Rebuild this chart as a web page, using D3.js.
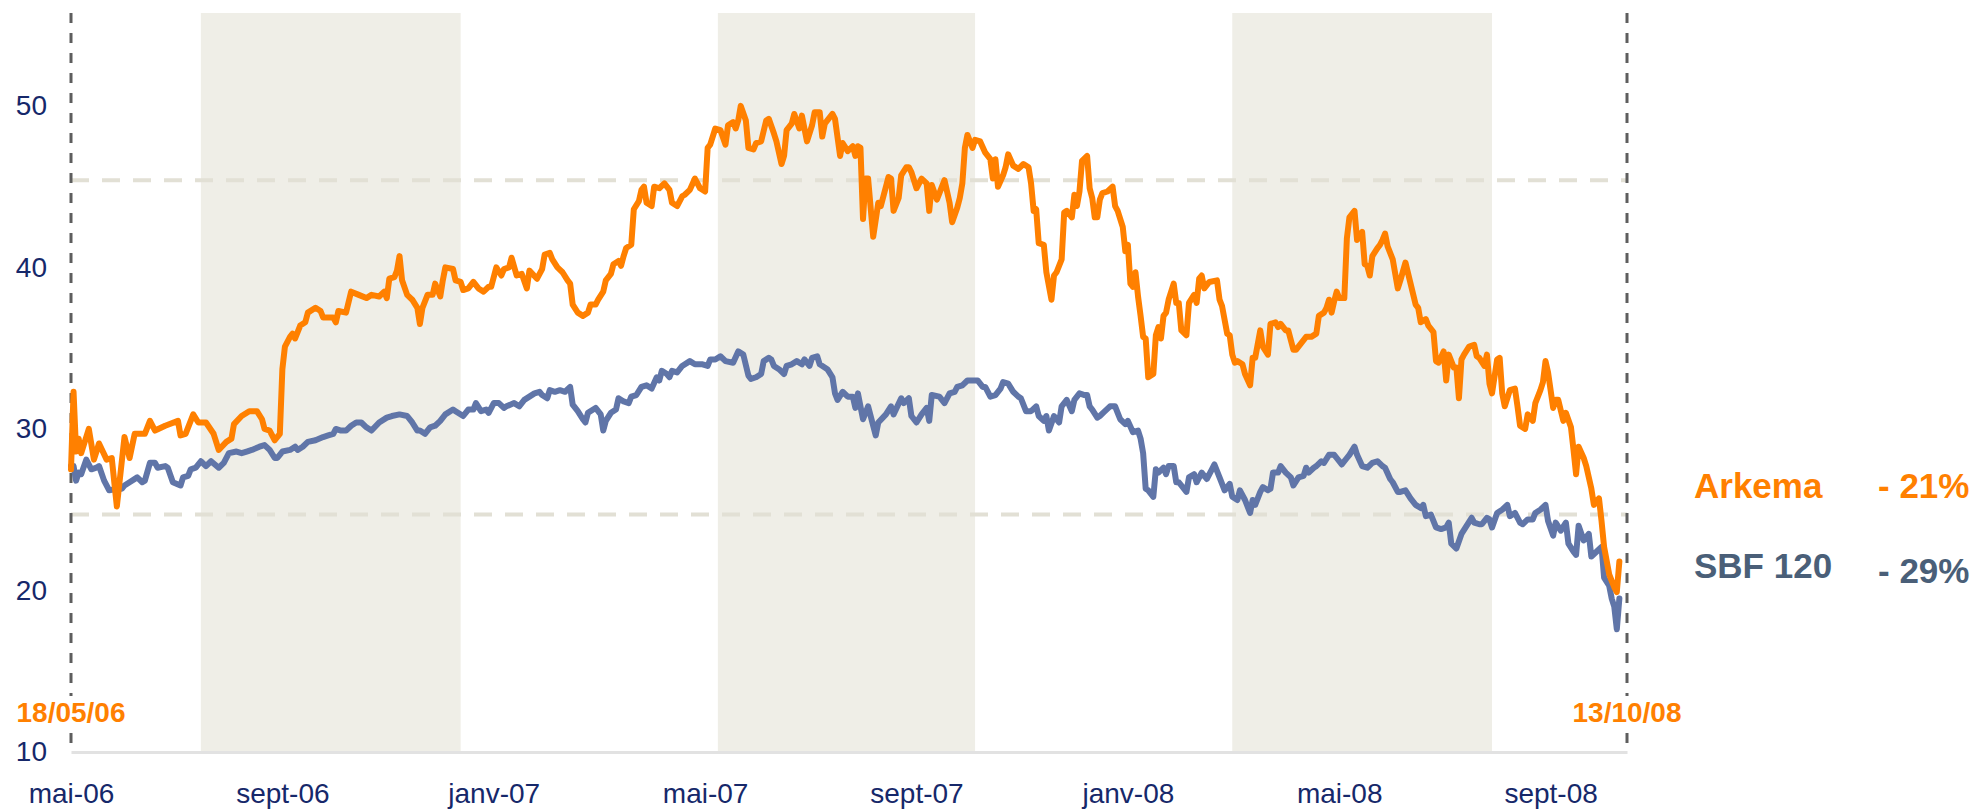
<!DOCTYPE html>
<html>
<head>
<meta charset="utf-8">
<script src="https://cdn.jsdelivr.net/npm/d3@7"></script>
<style>
  body { margin: 0; background: #fff; }
  svg { font-family: "Liberation Sans", Arial, sans-serif; }
</style>
</head>
<body>
<div class="container"></div>
<script>
const WIDTH = 1975,
      HEIGHT = 810,
      LEFT = 71, RIGHT = 1627, TOP = 13, BOTTOM = 752;

// x is the trading session number, 0 = 18/05/06, 611 = 13/10/08
const SESSIONS = 611;
const startLabel = '18/05/06', endLabel = '13/10/08';

const xTickLabels = ['mai-06', 'sept-06', 'janv-07', 'mai-07', 'sept-07', 'janv-08', 'mai-08', 'sept-08'];
const xTickSessions = [0, 83, 166, 249, 332, 415, 498, 581];
const yTicks = [10, 20, 30, 40, 50];
const refLevels = [45.4, 24.7];
const bandStart = [51, 254, 456];
const bandEnd = [153, 355, 558];

const seriesNames = ['Arkema', 'SBF 120'];
const seriesChange = ['- 21%', '- 29%'];

// [session, close]
const arkema = [[0,27.5],[1,32.3],[2,28.6],[3,29.4],[4,28.5],[7,30.0],[9,28.1],[11,29.1],[14,28.1],[16,28.2],[18,25.2],[21,29.5],[23,28.2],[25,29.7],[29,29.7],[31,30.5],[33,29.9],[37,30.2],[42,30.5],[43,29.6],[45,29.7],[48,30.9],[50,30.4],[53,30.4],[56,29.7],[58,28.7],[61,29.2],[63,29.4],[64,30.3],[67,30.8],[70,31.1],[73,31.1],[75,30.6],[76,30.0],[78,29.9],[80,29.3],[82,29.7],[83,33.7],[84,35.1],[86,35.7],[87,35.9],[88,35.6],[90,36.4],[92,36.6],[93,37.2],[96,37.5],[98,37.3],[99,36.9],[103,36.9],[104,36.6],[105,37.3],[108,37.2],[110,38.5],[113,38.3],[116,38.1],[118,38.3],[121,38.2],[123,38.5],[124,38.1],[125,39.3],[127,39.4],[128,39.8],[129,40.7],[130,39.2],[132,38.3],[134,38.0],[136,37.5],[137,36.5],[138,37.5],[140,38.3],[142,38.3],[143,39.0],[145,38.2],[146,39.2],[147,40.0],[150,39.9],[151,39.2],[153,39.1],[154,38.6],[156,38.7],[158,39.1],[160,38.7],[162,38.5],[164,38.8],[165,38.8],[167,40.0],[169,39.5],[170,39.9],[172,40.0],[173,40.6],[175,39.5],[177,39.6],[179,38.7],[180,39.8],[183,39.3],[185,39.9],[186,40.8],[188,40.9],[189,40.5],[191,40.0],[193,39.7],[195,39.2],[196,39.0],[197,37.7],[199,37.2],[201,37.0],[203,37.2],[204,37.7],[206,37.7],[207,38.0],[209,38.5],[210,39.2],[212,39.6],[213,40.2],[215,40.4],[216,40.1],[217,40.7],[218,41.2],[220,41.4],[221,43.6],[223,44.1],[224,44.8],[225,45.0],[226,44.0],[228,43.8],[229,45.0],[231,44.9],[233,45.2],[235,44.8],[236,44.0],[238,43.8],[240,44.4],[241,44.5],[243,44.8],[245,45.5],[247,44.9],[249,44.7],[250,47.4],[251,47.6],[253,48.6],[255,48.5],[257,47.6],[258,48.8],[260,49.0],[261,48.6],[262,49.1],[263,50.0],[265,49.1],[266,47.4],[268,47.3],[269,47.7],[271,47.8],[273,49.1],[274,49.2],[276,48.3],[277,47.8],[279,46.4],[280,46.9],[281,48.5],[283,48.9],[284,49.5],[286,48.6],[287,49.4],[289,47.8],[291,48.8],[292,49.6],[294,49.6],[295,48.1],[296,48.9],[299,49.5],[300,49.2],[302,46.9],[303,47.7],[305,47.2],[307,47.5],[308,46.9],[309,47.5],[310,47.4],[311,43.0],[312,45.5],[313,45.5],[315,41.9],[317,44.0],[318,43.8],[320,45.0],[321,45.6],[322,45.5],[323,43.5],[325,44.3],[326,45.7],[328,46.2],[329,46.2],[330,45.9],[332,44.9],[334,45.5],[336,45.2],[337,43.5],[338,45.1],[340,44.2],[341,44.6],[343,45.4],[345,44.0],[346,42.8],[348,43.7],[349,44.3],[350,45.2],[351,47.4],[352,48.2],[354,47.4],[355,47.9],[357,47.8],[359,47.1],[361,46.7],[362,45.5],[363,46.7],[364,45.0],[366,45.7],[367,46.2],[368,47.0],[370,46.3],[372,46.1],[374,46.4],[376,46.2],[377,45.2],[378,43.5],[379,43.6],[380,41.5],[382,41.4],[383,39.7],[385,38.0],[386,39.5],[387,39.7],[389,40.5],[390,43.4],[391,43.5],[393,43.1],[394,44.5],[395,43.8],[396,44.7],[397,46.6],[399,46.9],[400,44.9],[401,44.3],[402,43.1],[403,43.1],[404,44.2],[405,44.6],[407,44.7],[409,45.0],[410,43.8],[411,43.5],[413,42.5],[414,41.0],[415,41.4],[416,39.0],[417,38.8],[418,39.7],[419,38.2],[420,37.0],[421,35.7],[422,35.6],[423,33.2],[425,33.4],[426,35.8],[427,36.3],[428,35.6],[429,37.0],[430,37.2],[431,38.0],[433,39.0],[434,37.8],[435,37.8],[436,36.1],[438,35.8],[439,37.8],[441,38.3],[442,37.8],[443,39.3],[444,39.5],[445,38.7],[447,39.1],[450,39.2],[451,38.0],[452,37.6],[454,35.9],[455,35.8],[456,34.6],[457,34.1],[458,34.2],[460,34.0],[461,33.4],[463,32.7],[464,34.4],[465,34.4],[467,36.1],[468,35.1],[470,34.6],[471,36.5],[473,36.6],[474,36.3],[475,36.5],[477,36.1],[478,36.1],[480,34.9],[481,34.9],[483,35.3],[485,35.7],[487,35.7],[489,35.9],[490,37.0],[492,37.2],[493,37.5],[494,38.0],[495,37.2],[496,37.9],[497,38.5],[498,38.1],[500,38.1],[501,41.8],[502,43.1],[504,43.5],[505,41.7],[507,42.2],[508,40.2],[509,40.1],[510,39.5],[511,40.7],[513,41.2],[514,41.4],[515,41.7],[516,42.1],[517,41.3],[519,40.5],[521,38.7],[522,39.2],[524,40.3],[526,39.0],[528,37.7],[529,37.5],[530,36.6],[532,36.8],[533,36.4],[535,36.0],[536,34.2],[537,34.1],[539,34.8],[540,33.0],[541,34.6],[543,33.8],[544,33.8],[545,31.9],[546,34.3],[547,34.6],[549,35.1],[551,35.2],[552,34.5],[553,34.4],[555,33.9],[556,34.6],[557,32.8],[558,32.2],[560,34.3],[561,34.4],[562,32.2],[563,31.4],[565,32.4],[567,32.5],[568,31.4],[569,30.2],[571,30.0],[572,30.9],[574,30.5],[575,31.6],[577,32.4],[578,32.9],[579,34.2],[580,33.5],[581,32.4],[582,31.3],[583,31.8],[584,31.8],[586,30.5],[587,31.0],[589,30.1],[590,28.7],[591,27.2],[592,28.9],[594,28.2],[595,27.7],[597,26.3],[598,25.3],[600,25.7],[601,24.3],[602,22.7],[604,21.0],[605,20.6],[606,20.2],[607,19.9],[608,21.8]];

const sbf120 = [[0,27.7],[1,27.7],[2,26.8],[3,27.3],[4,27.2],[6,28.1],[8,27.5],[10,27.6],[11,27.7],[13,26.8],[15,26.2],[18,26.3],[20,26.3],[21,26.5],[23,26.7],[26,27.0],[28,26.7],[29,26.8],[31,27.9],[33,27.9],[34,27.6],[37,27.7],[38,27.6],[40,26.7],[43,26.5],[44,27.0],[46,27.1],[47,27.5],[49,27.6],[51,28.0],[53,27.7],[55,28.0],[58,27.6],[60,27.9],[62,28.5],[65,28.6],[67,28.5],[69,28.6],[71,28.7],[74,28.9],[76,29.0],[78,28.7],[80,28.2],[81,28.2],[83,28.6],[86,28.7],[88,28.9],[89,28.7],[91,28.9],[93,29.2],[96,29.3],[99,29.5],[101,29.6],[103,29.7],[104,30.0],[106,29.9],[108,29.9],[110,30.2],[112,30.4],[114,30.4],[116,30.1],[118,29.9],[121,30.4],[124,30.7],[126,30.8],[129,30.9],[132,30.8],[134,30.4],[136,29.9],[137,29.9],[139,29.7],[141,30.1],[143,30.2],[145,30.5],[147,30.9],[150,31.2],[151,31.1],[154,30.8],[156,31.2],[158,31.2],[159,31.6],[161,31.1],[163,31.2],[164,31.0],[166,31.6],[168,31.6],[170,31.3],[171,31.4],[174,31.6],[176,31.4],[178,31.8],[180,32.0],[182,32.2],[184,32.3],[185,32.1],[187,31.9],[188,32.4],[190,32.3],[192,32.4],[194,32.3],[196,32.6],[197,31.5],[199,31.1],[201,30.6],[202,30.4],[203,31.0],[206,31.3],[208,30.9],[209,29.9],[210,30.5],[212,31.0],[214,31.2],[215,31.9],[217,31.7],[219,31.6],[220,32.0],[222,32.1],[224,32.6],[226,32.7],[228,32.5],[230,33.2],[231,33.0],[232,33.6],[234,33.4],[235,33.2],[236,33.6],[238,33.5],[240,33.9],[243,34.2],[245,34.0],[248,34.0],[250,33.9],[251,34.3],[253,34.3],[255,34.5],[257,34.2],[260,34.1],[262,34.8],[264,34.6],[266,33.3],[267,33.1],[269,33.2],[271,33.4],[272,34.2],[274,34.4],[275,34.3],[276,33.9],[278,33.7],[280,33.4],[281,33.9],[283,34.0],[285,34.2],[287,34.0],[288,34.3],[290,33.9],[291,34.4],[293,34.5],[294,34.0],[297,33.7],[299,33.2],[300,32.2],[301,31.8],[303,32.3],[305,32.0],[307,32.0],[308,31.3],[309,32.2],[311,30.6],[313,31.4],[314,30.8],[316,29.6],[317,30.4],[320,30.9],[322,31.4],[323,30.9],[326,31.9],[327,31.6],[329,31.9],[330,30.8],[332,30.4],[334,30.9],[336,31.3],[337,30.5],[338,32.1],[341,32.0],[343,31.6],[345,32.2],[347,32.3],[348,32.6],[350,32.7],[352,33.0],[354,33.0],[356,33.0],[358,32.6],[359,32.6],[361,32.0],[363,32.1],[365,32.5],[366,32.9],[368,32.8],[370,32.3],[372,32.0],[373,31.9],[375,31.1],[377,31.1],[379,31.4],[380,30.8],[382,30.5],[383,30.8],[384,29.9],[386,30.8],[388,30.4],[389,31.4],[391,31.8],[393,31.1],[394,31.8],[396,32.2],[398,32.1],[399,32.1],[400,31.4],[401,31.2],[403,30.7],[404,30.8],[406,31.1],[408,31.4],[410,31.4],[411,31.0],[412,30.6],[414,30.3],[415,30.5],[417,29.8],[419,29.9],[420,29.4],[421,28.5],[422,26.3],[423,26.2],[425,25.8],[426,27.5],[427,27.3],[429,27.6],[430,27.2],[431,27.7],[433,27.7],[434,26.7],[435,26.7],[438,26.1],[439,27.0],[441,27.2],[442,26.7],[444,27.3],[446,26.9],[448,27.5],[449,27.8],[451,27.0],[453,26.2],[455,26.6],[456,25.8],[458,25.6],[459,26.2],[461,25.6],[463,24.8],[464,25.6],[465,25.3],[467,26.1],[468,26.4],[470,26.2],[471,26.3],[472,27.3],[474,27.3],[475,27.7],[477,27.3],[479,27.0],[480,26.5],[482,27.0],[484,27.1],[485,27.6],[486,27.3],[488,27.6],[489,27.7],[491,28.0],[492,27.9],[494,28.4],[496,28.4],[497,28.2],[499,27.8],[501,28.2],[502,28.4],[504,28.9],[505,28.4],[507,27.7],[509,27.6],[511,27.9],[513,28.0],[515,27.7],[516,27.6],[518,26.9],[519,26.7],[521,26.1],[522,26.1],[524,26.2],[526,25.7],[528,25.3],[530,25.1],[531,25.3],[532,24.6],[534,24.7],[536,23.9],[538,23.8],[540,23.9],[541,24.2],[542,22.9],[544,22.6],[546,23.5],[548,24.0],[550,24.5],[551,24.2],[553,24.1],[554,24.1],[556,24.5],[557,24.4],[558,23.9],[560,24.8],[562,25.0],[564,25.3],[565,24.6],[567,24.8],[569,24.2],[570,24.1],[572,24.4],[574,24.4],[575,24.8],[577,25.0],[579,25.3],[580,24.3],[582,23.4],[583,24.2],[585,23.7],[587,24.2],[588,22.9],[590,22.4],[591,22.2],[592,24.0],[594,23.1],[596,23.5],[597,22.1],[599,22.4],[601,22.7],[602,20.8],[604,20.3],[605,19.5],[606,19.0],[607,17.6],[608,19.5]];

const ORANGE = '#ff8000', BLUE = '#6075a8', SLATE = '#4a5f78', NAVY = '#16286a';

var svg = d3.select('.container').append('svg')
    .attr('width', WIDTH).attr('height', HEIGHT);

var x = d3.scaleLinear().domain([0, SESSIONS]).range([LEFT, RIGHT]);
var y = d3.scaleLinear().domain([10, 55.75]).range([BOTTOM, TOP]);

// background bands
svg.append('g').selectAll('rect')
  .data(bandStart)
  .join('rect')
    .attr('x', (d, i) => x(d))
    .attr('width', (d, i) => x(bandEnd[i]) - x(d))
    .attr('y', TOP)
    .attr('height', BOTTOM - TOP)
    .attr('fill', '#efeee7');

// beige reference levels
svg.append('g').selectAll('line')
  .data(refLevels)
  .join('line')
    .attr('x1', x(0)).attr('x2', x(SESSIONS))
    .attr('y1', d => y(d)).attr('y2', d => y(d))
    .attr('stroke', '#e2e0d5')
    .attr('stroke-width', 4)
    .attr('stroke-dasharray', '18,13');

// x axis
var xAxis = svg.append('g')
    .attr('transform', `translate(0,${BOTTOM})`)
    .call(d3.axisBottom(x)
      .tickValues(xTickSessions)
      .tickFormat((d, i) => xTickLabels[i])
      .tickSize(0).tickSizeOuter(0).tickPadding(31));
xAxis.select('.domain').attr('stroke', '#e2e2e2').attr('stroke-width', 3);
xAxis.selectAll('text').attr('font-size', 28).attr('fill', NAVY).attr('font-family', null);

// y axis
var yAxis = svg.append('g')
    .attr('transform', `translate(${LEFT},0)`)
    .call(d3.axisLeft(y).tickValues(yTicks).tickSize(0).tickPadding(24));
yAxis.select('.domain').remove();
yAxis.selectAll('text').attr('font-size', 28).attr('fill', NAVY).attr('font-family', null);

// start / end markers
var ends = [0, SESSIONS];
svg.append('g').selectAll('line')
  .data(ends)
  .join('line')
    .attr('x1', d => x(d)).attr('x2', d => x(d))
    .attr('y1', TOP).attr('y2', BOTTOM)
    .attr('stroke', '#5e5e5e')
    .attr('stroke-width', 3)
    .attr('stroke-dasharray', '10,10');

var line = d3.line().x(d => x(d[0])).y(d => y(d[1]));

svg.append('path')
    .datum(sbf120)
    .attr('d', line)
    .attr('fill', 'none')
    .attr('stroke', BLUE)
    .attr('stroke-width', 6)
    .attr('stroke-linejoin', 'round')
    .attr('stroke-linecap', 'round');

svg.append('path')
    .datum(arkema)
    .attr('d', line)
    .attr('fill', 'none')
    .attr('stroke', ORANGE)
    .attr('stroke-width', 6)
    .attr('stroke-linejoin', 'round')
    .attr('stroke-linecap', 'round');

// date labels on the dashed lines, white behind
var dateG = svg.append('g').selectAll('g')
  .data([startLabel, endLabel])
  .join('g')
    .attr('transform', (d, i) => `translate(${x(ends[i])},722)`);
dateG.append('rect')
    .attr('x', -58).attr('y', -26).attr('width', 116).attr('height', 31)
    .attr('fill', '#fff');
dateG.append('text')
    .attr('text-anchor', 'middle')
    .attr('font-size', 28).attr('font-weight', 'bold')
    .attr('fill', ORANGE)
    .text(d => d);

// legend on the right
var legendColor = [ORANGE, SLATE];
var legendY = [498, 578];
var legend = svg.append('g').selectAll('g')
  .data(seriesNames)
  .join('g');
legend.append('text')
    .attr('x', 1694).attr('y', (d, i) => legendY[i])
    .attr('font-size', 35).attr('font-weight', 'bold')
    .attr('fill', (d, i) => legendColor[i])
    .text(d => d);
legend.append('text')
    .attr('x', 1878).attr('y', (d, i) => legendY[i] + i * 5)
    .attr('font-size', 35).attr('font-weight', 'bold')
    .attr('fill', (d, i) => legendColor[i])
    .text((d, i) => seriesChange[i]);
</script>
</body>
</html>
